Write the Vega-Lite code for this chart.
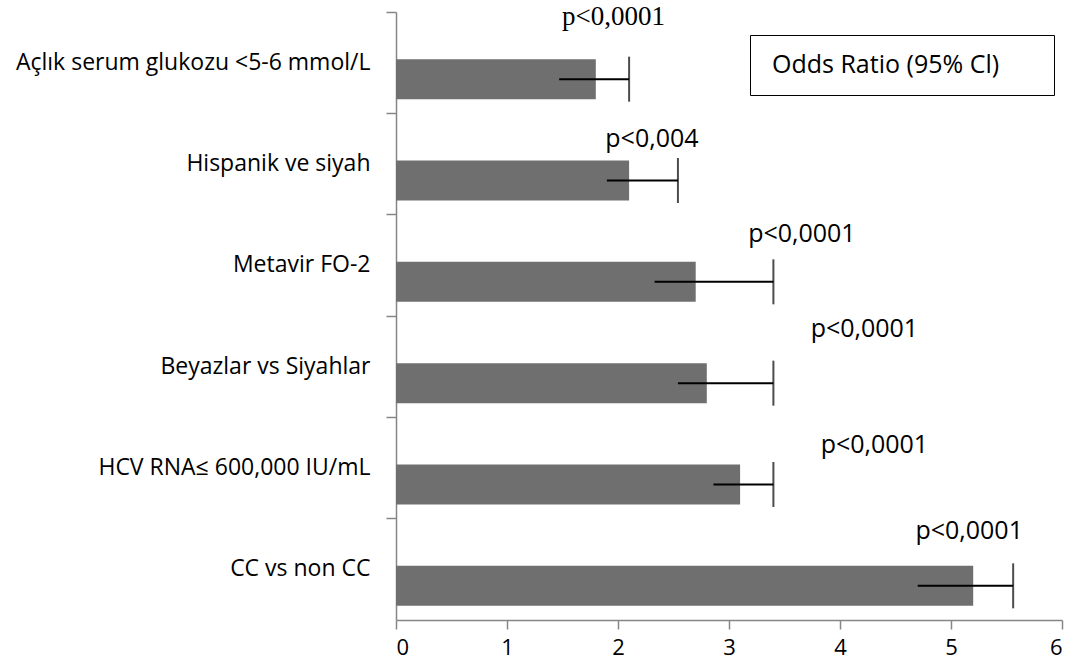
{
  "$schema": "https://vega.github.io/schema/vega-lite/v6.json",
  "width": 666,
  "height": 608,
  "autosize": {"type": "none"},
  "padding": {"left": 396, "top": 12, "right": 18, "bottom": 48},
  "background": "white",
  "config": {"view": {"stroke": null}, "font": "Open Sans"},
  "data": {
    "values": [
      {"cat": "Açlık serum glukozu <5-6 mmol/L", "or": 1.8, "lo": 1.47, "hi": 2.10, "p": "p<0,0001"},
      {"cat": "Hispanik ve siyah", "or": 2.1, "lo": 1.90, "hi": 2.54, "p": "p<0,004"},
      {"cat": "Metavir FO-2", "or": 2.7, "lo": 2.33, "hi": 3.40, "p": "p<0,0001"},
      {"cat": "Beyazlar vs Siyahlar", "or": 2.8, "lo": 2.54, "hi": 3.40, "p": "p<0,0001"},
      {"cat": "HCV RNA≤ 600,000 IU/mL", "or": 3.1, "lo": 2.86, "hi": 3.40, "p": "p<0,0001"},
      {"cat": "CC vs non CC", "or": 5.2, "lo": 4.70, "hi": 5.56, "p": "p<0,0001"}
    ]
  },
  "encoding": {
    "y": {
      "field": "cat",
      "type": "nominal",
      "sort": null,
      "scale": {"paddingInner": 0, "paddingOuter": 0},
      "axis": {
        "title": null,
        "bandPosition": 0,
        "domainColor": "#868686",
        "domainWidth": 1.5,
        "tickColor": "#868686",
        "tickWidth": 1.5,
        "tickSize": 10,
        "labelPadding": 16,
        "labelFontSize": 23,
        "labelFont": "Open Sans",
        "labelColor": "black",
        "labelLimit": 400
      }
    }
  },
  "layer": [
    {
      "mark": {"type": "bar", "height": 40, "yOffset": 16.5},
      "encoding": {
        "x": {
          "field": "or",
          "type": "quantitative",
          "scale": {"domain": [0, 6], "nice": false},
          "axis": {
            "title": null,
            "grid": false,
            "values": [0, 1, 2, 3, 4, 5, 6],
            "format": "d",
            "domainColor": "#868686",
            "domainWidth": 1.5,
            "tickColor": "#868686",
            "tickWidth": 1.5,
            "tickSize": 9,
            "labelPadding": 8,
            "labelFontSize": 22,
            "labelFont": "Open Sans",
            "labelColor": "black"
          }
        },
        "color": {
          "datum": "Odds Ratio (95% Cl)",
          "scale": {"range": ["#6f6f6f"]},
          "legend": {
            "orient": "none",
            "legendX": 354,
            "legendY": 23,
            "title": null,
            "strokeColor": "black",
            "fillColor": "white",
            "padding": 17,
            "symbolSize": 0,
            "symbolOpacity": 0,
            "symbolStrokeWidth": 0,
            "labelFontSize": 25,
            "labelFont": "Open Sans",
            "labelColor": "black",
            "labelOffset": -20,
            "labelLimit": 500,
            "labelExpr": "datum.label + '\u00a0\u00a0\u00a0\u2800'"
          }
        }
      }
    },
    {
      "mark": {"type": "rule", "color": "black", "strokeWidth": 2, "yOffset": 16.5},
      "encoding": {
        "x": {"field": "lo", "type": "quantitative"},
        "x2": {"field": "hi"}
      }
    },
    {
      "mark": {"type": "tick", "color": "black", "size": 45, "thickness": 2, "yOffset": 16.5, "orient": "vertical"},
      "encoding": {
        "x": {"field": "hi", "type": "quantitative"}
      }
    },
    {
      "transform": [{"filter": "datum.cat === 'Açlık serum glukozu <5-6 mmol/L'"}],
      "mark": {"type": "text", "dx": -15.5, "dy": -37.7, "baseline": "alphabetic", "fontSize": 27, "font": "Liberation Serif", "color": "black"},
      "encoding": {"x": {"field": "hi", "type": "quantitative"}, "text": {"field": "p"}}
    },
    {
      "transform": [{"filter": "datum.cat === 'Hispanik ve siyah'"}],
      "mark": {"type": "text", "dx": -26, "dy": -17, "baseline": "alphabetic", "fontSize": 25, "font": "Open Sans", "color": "black"},
      "encoding": {"x": {"field": "hi", "type": "quantitative"}, "text": {"field": "p"}}
    },
    {
      "transform": [{"filter": "datum.cat === 'Metavir FO-2'"}],
      "mark": {"type": "text", "dx": 28.5, "dy": -23.6, "baseline": "alphabetic", "fontSize": 25, "font": "Open Sans", "color": "black"},
      "encoding": {"x": {"field": "hi", "type": "quantitative"}, "text": {"field": "p"}}
    },
    {
      "transform": [{"filter": "datum.cat === 'Beyazlar vs Siyahlar'"}],
      "mark": {"type": "text", "dx": 91, "dy": -30, "baseline": "alphabetic", "fontSize": 25, "font": "Open Sans", "color": "black"},
      "encoding": {"x": {"field": "hi", "type": "quantitative"}, "text": {"field": "p"}}
    },
    {
      "transform": [{"filter": "datum.cat === 'HCV RNA≤ 600,000 IU/mL'"}],
      "mark": {"type": "text", "dx": 101, "dy": -15.3, "baseline": "alphabetic", "fontSize": 25, "font": "Open Sans", "color": "black"},
      "encoding": {"x": {"field": "hi", "type": "quantitative"}, "text": {"field": "p"}}
    },
    {
      "transform": [{"filter": "datum.cat === 'CC vs non CC'"}],
      "mark": {"type": "text", "dx": -44, "dy": -30, "baseline": "alphabetic", "fontSize": 25, "font": "Open Sans", "color": "black"},
      "encoding": {"x": {"field": "hi", "type": "quantitative"}, "text": {"field": "p"}}
    }
  ]
}
